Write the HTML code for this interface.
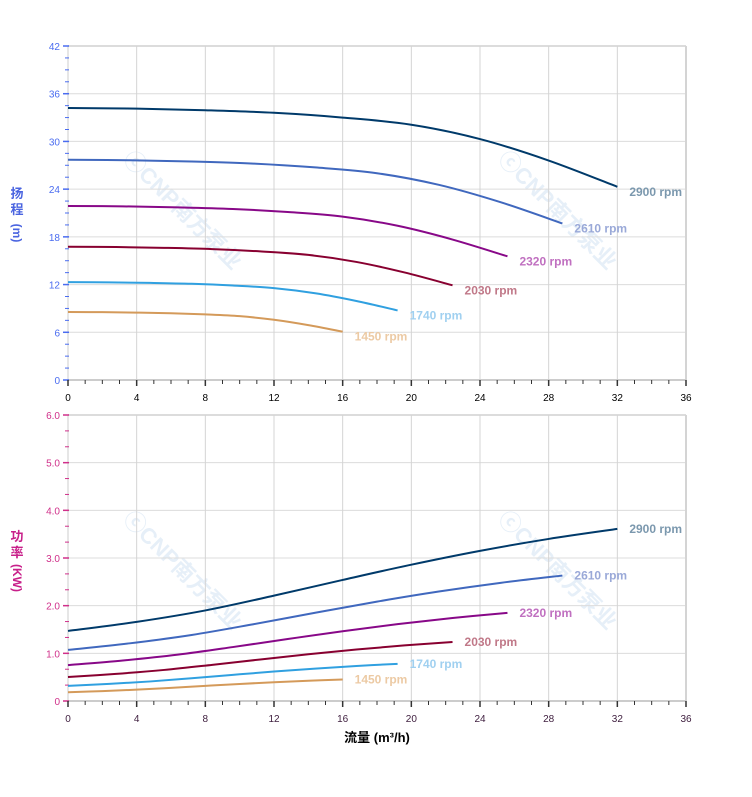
<!DOCTYPE html>
<html><head><meta charset="utf-8"><style>
html,body{margin:0;padding:0;background:#fff;}
svg{display:block;font-family:"Liberation Sans","Noto Sans CJK SC",sans-serif;}
</style></head><body>
<svg id="s" width="752" height="797" viewBox="0 0 752 797" xmlns="http://www.w3.org/2000/svg">
<g id="wm" fill="#e6eff8" font-weight="bold" font-size="22">
<text transform="translate(122,160) rotate(45)">ⓒCNP南方泵业</text>
<text transform="translate(497,160) rotate(45)">ⓒCNP南方泵业</text>
<text transform="translate(122,520) rotate(45)">ⓒCNP南方泵业</text>
<text transform="translate(497,520) rotate(45)">ⓒCNP南方泵业</text>
</g>
<g id="g"></g>
<text x="17" y="198" fill="#4a64e0" font-size="13" font-weight="bold" text-anchor="middle">扬</text>
<text x="17" y="214" fill="#4a64e0" font-size="13" font-weight="bold" text-anchor="middle">程</text>
<text transform="translate(13,233) rotate(90)" fill="#4a64e0" font-size="12" font-weight="bold" text-anchor="middle">(m)</text>
<text x="17" y="541" fill="#c8208a" font-size="13" font-weight="bold" text-anchor="middle">功</text>
<text x="17" y="557" fill="#c8208a" font-size="13" font-weight="bold" text-anchor="middle">率</text>
<text transform="translate(13,578) rotate(90)" fill="#c8208a" font-size="12" font-weight="bold" text-anchor="middle">(KW)</text>
<text x="377" y="742" fill="#000" font-size="13" font-weight="bold" text-anchor="middle">流量 (m³/h)</text>
</svg>
<script>
var NS="http://www.w3.org/2000/svg",G=document.getElementById("g");
function el(t,a,txt){var e=document.createElementNS(NS,t);for(var k in a)e.setAttribute(k,a[k]);if(txt!==undefined)e.textContent=txt;G.appendChild(e);return e;}
var X0=68,X1=686;function X(q){return X0+q*(X1-X0)/36;}
function chart(top,bot,ymax,major,minor,lblCol,fmt,xlblCol){
  function Y(v){return bot-(bot-top)*v/ymax;}
  for(var v=0;v<=ymax+1e-9;v+=major){el("line",{x1:X0,x2:X1,y1:Y(v),y2:Y(v),stroke:"#dcdcdc","stroke-width":v>=ymax-1e-9?2:1});}
  for(var q=4;q<=36;q+=4)el("line",{x1:X(q),x2:X(q),y1:top,y2:bot,stroke:"#d4d4d4","stroke-width":q==36?2:1});
  el("line",{x1:X0,x2:X1,y1:bot,y2:bot,stroke:"#ccc","stroke-width":2});
  el("line",{x1:X0,x2:X0,y1:top,y2:bot,stroke:"#ccc","stroke-width":1});
  for(var v=0;v<=ymax+1e-9;v+=minor){var isM=Math.abs(v/major-Math.round(v/major))<1e-6;
    el("line",{x1:isM?63:65,x2:69,y1:Y(v),y2:Y(v),stroke:lblCol,"stroke-width":isM?1.5:1});
    if(isM)el("text",{x:60,y:Y(v)+4,fill:lblCol,"font-size":10,"text-anchor":"end"},fmt(v));}
  for(var q=0;q<=36;q++){var isM=q%4==0;
    el("line",{x1:X(q),x2:X(q),y1:bot,y2:bot+(isM?6:4),stroke:"#333","stroke-width":isM?1.5:1});
    if(isM)el("text",{x:X(q),y:bot+21,fill:xlblCol,"font-size":10,"text-anchor":"middle"},q);}
  return Y;
}
var Yh=chart(46,380,42,6,1.5,"#4a6cf0",function(v){return v;},"#000");
var Yp=chart(415,701,6,1,1/3,"#d0308a",function(v){return v==0?"0":v.toFixed(1);},"#402040");
var Hp=[[0,34.2],[4,34.12],[8,33.92],[12,33.6],[16,33.0],[20,32.1],[24,30.3],[28,27.6],[32,24.3]];
var Pp=[[0,1.47],[4,1.66],[8,1.90],[12,2.21],[16,2.54],[20,2.86],[24,3.15],[28,3.40],[32,3.61]];
var sp=[[2900,"#003a6a","#7b98ae"],[2610,"#4068be","#9aa9d8"],[2320,"#880888","#c070c0"],[2030,"#880030","#c07888"],[1740,"#30a0e0","#a0d0f0"],[1450,"#d49a5a","#eccaa4"]];
function path(pts){var d="M"+pts[0][0]+","+pts[0][1];
  for(var i=0;i<pts.length-1;i++){var p0=pts[Math.max(i-1,0)],p1=pts[i],p2=pts[i+1],p3=pts[Math.min(i+2,pts.length-1)];
    d+=" C"+(p1[0]+(p2[0]-p0[0])/6)+","+(p1[1]+(p2[1]-p0[1])/6)+" "+(p2[0]-(p3[0]-p1[0])/6)+","+(p2[1]-(p3[1]-p1[1])/6)+" "+p2[0]+","+p2[1];}
  return d;}
sp.forEach(function(s){var r=s[0]/2900;
  var h=Hp.map(function(p){return [X(p[0]*r),Yh(p[1]*r*r)];});
  var p=Pp.map(function(p){return [X(p[0]*r),Yp(p[1]*r*r*r)];});
  el("path",{d:path(h),fill:"none",stroke:s[1],"stroke-width":2});
  el("path",{d:path(p),fill:"none",stroke:s[1],"stroke-width":2});
  var e=h[h.length-1];el("text",{x:e[0]+12,y:e[1]+9,fill:s[2],"font-size":12,"font-weight":"bold"},s[0]+" rpm");
  e=p[p.length-1];el("text",{x:e[0]+12,y:e[1]+4,fill:s[2],"font-size":12,"font-weight":"bold"},s[0]+" rpm");
});
</script>
</body></html>
